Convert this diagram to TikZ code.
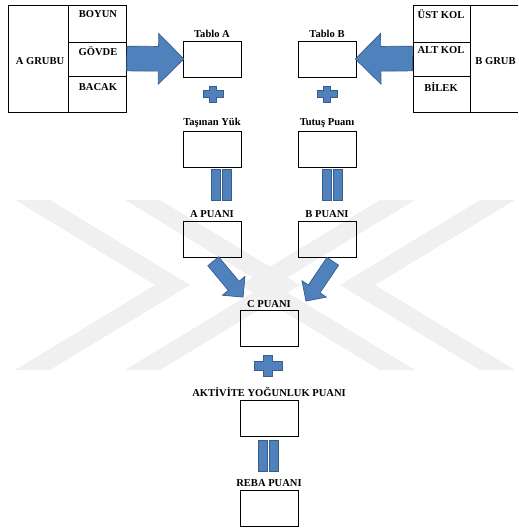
\documentclass[tikz,border=0pt]{standalone}
\usepackage{fontspec}
\setmainfont{Liberation Serif}
\usetikzlibrary{shapes.arrows,positioning}
\definecolor{ofblue}{RGB}{79,129,189}
\definecolor{ofline}{RGB}{56,93,138}
\tikzset{
  kutu/.style={draw, line width=0.8pt, minimum width=1.74cm, minimum height=1.08cm, inner sep=0pt},
  yazi/.style={font=\fontsize{9}{10}\selectfont\bfseries, inner sep=1pt},
  etiket/.style={yazi, label distance=1pt},
  cizgi/.style={line width=0.8pt},
  blokok/.style={single arrow, draw=ofline, fill=ofblue, line width=0.6pt, inner xsep=0pt,
    inner ysep=0.36cm, single arrow head extend=0.39cm, sloped, allow upside down, pos=0, anchor=tail},
  capraz/.style={blokok, inner ysep=0.2cm, single arrow head extend=0.23cm},
  esit/.style={draw=ofline, fill=ofblue, line width=0.6pt},
  arti/.style={draw=ofline, fill=ofblue, line width=0.6pt}
}
\begin{document}
\begin{tikzpicture}[x=0.03cm, y=-0.03cm]
		\useasboundingbox (0,0) rectangle (518,530);
		% watermark
		\foreach \wx in {15,125}
			\fill[gray!12] (\wx,200) -- ++(35,0) -- ++(140,85) -- ++(-140,85) -- ++(-35,0) -- ++(140,-85) -- cycle;
		\foreach \wx in {515,415}
			\fill[gray!12] (\wx,200) -- ++(-35,0) -- ++(-140,85) -- ++(140,85) -- ++(35,0) -- ++(-140,-85) -- cycle;

		% A grubu
		\node[draw, cizgi, minimum width=3.54cm, minimum height=3.21cm, inner sep=0pt] (grpA) at (67,58.5) {};
		\draw[cizgi] (68,5) -- (68,112) (68,42) -- (126,42) (68,76) -- (126,76);
		\node[yazi] (aGrubu) at (40,61) {A GRUBU};
		\node[yazi] (boyun) at (98,14) {BOYUN};
		\node[yazi] (govde) at (98,51) {GÖVDE};
		\node[yazi] (bacak) at (98,87) {BACAK};

		% B grubu
		\node[minimum width=3.15cm, minimum height=3.21cm, inner sep=0pt] (grpB) at (465.5,58.5) {};
		\draw[cizgi] (518,5) -- (413,5) -- (413,112) -- (518,112);
		\draw[cizgi] (470,5) -- (470,112) (413,42) -- (470,42) (413,76) -- (470,76);
		\node[yazi, anchor=west] (bGrubu) at (474,61) {B GRUB};
		\node[yazi] (ustKol) at (441,14) {ÜST KOL};
		\node[yazi] (altKol) at (441,50) {ALT KOL};
		\node[yazi] (bilek) at (441,87) {BİLEK};

		% kutular
		\node[kutu, label={[etiket]above:Tablo A}] (tabloA) at (212,59) {};
		\node[kutu, label={[etiket]above:Taşınan Yük}] (yukA) at (212,149) {};
		\node[kutu, label={[etiket]above:A PUANI}] (puanA) at (212,239) {};
		\node[kutu, label={[etiket]above:Tablo B}] (tabloB) at (327,59) {};
		\node[kutu, label={[etiket]above:Tutuş Puanı}] (tutusB) at (327,149) {};
		\node[kutu, label={[etiket]above:B PUANI}] (puanB) at (327,239) {};
		\node[kutu, label={[etiket]above:C PUANI}] (puanC) at (269,328.5) {};
		\node[kutu, label={[etiket]above:AKTİVİTE YOĞUNLUK PUANI}] (aktivite) at (269,418) {};
		\node[kutu, label={[etiket]above:REBA PUANI}] (reba) at (269,508) {};

		% oklar
		\path (grpA.east) -- node[blokok, minimum height=1.71cm] {} (tabloA.west);
		\path (grpB.west) -- node[blokok, minimum height=1.71cm] {} (tabloB.east);
		\coordinate (okA1) at (213,261);
		\coordinate (okA2) at (243,297);
		\coordinate (okB1) at (333,261);
		\coordinate (okB2) at (306,301);
		\path (okA1) -- node[capraz, minimum height=1.4cm] {} (okA2);
		\path (okB1) -- node[capraz, minimum height=1.44cm] {} (okB2);

		% arti ve esit
		\foreach \kx/\ky/\kw/\kh/\kt in {213/94/20/16/7, 327/94/20/16/7, 268/366/28/21/9}
			\draw[arti] (\kx-\kw/2,\ky-\kt/2) -- (\kx-\kt/2,\ky-\kt/2) -- (\kx-\kt/2,\ky-\kh/2) -- (\kx+\kt/2,\ky-\kh/2)
				-- (\kx+\kt/2,\ky-\kt/2) -- (\kx+\kw/2,\ky-\kt/2) -- (\kx+\kw/2,\ky+\kt/2) -- (\kx+\kt/2,\ky+\kt/2)
				-- (\kx+\kt/2,\ky+\kh/2) -- (\kx-\kt/2,\ky+\kh/2) -- (\kx-\kt/2,\ky+\kt/2) -- (\kx-\kw/2,\ky+\kt/2) -- cycle;
		\foreach \ex/\ey in {221/184.5, 332/184.5, 268.5/455.5} {
			\draw[esit] (\ex-10,\ey-15.5) rectangle (\ex-1,\ey+15.5);
			\draw[esit] (\ex+1,\ey-15.5) rectangle (\ex+10,\ey+15.5);
		}
	\end{tikzpicture}
\end{document}
